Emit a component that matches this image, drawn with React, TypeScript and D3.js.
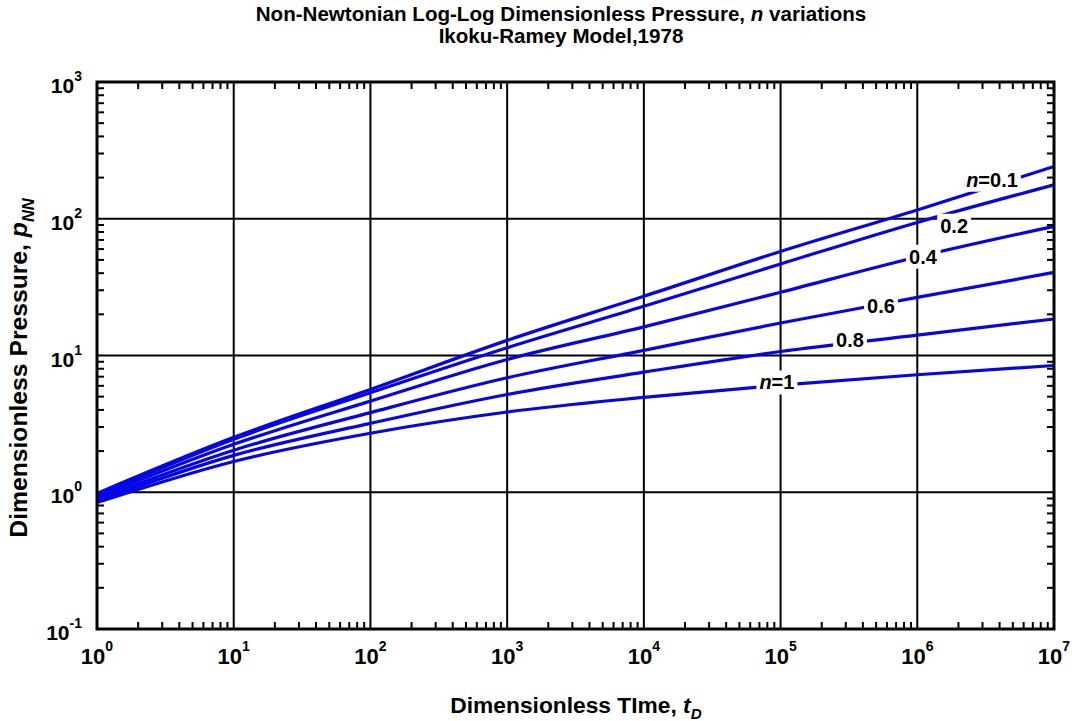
import React, { useEffect, useRef } from "react";
import * as d3 from "d3";

const times = [1, 1e1, 1e2, 1e3, 1e4, 1e5, 1e6, 1e7];
const nValues = ["0.1", "0.2", "0.4", "0.6", "0.8", "1"];
const p_n01 = [0.98, 2.52, 5.65, 12.9, 27.1, 57.7, 116, 241];
const p_n02 = [0.95, 2.44, 5.34, 11.4, 22.9, 46.7, 94, 177];
const p_n04 = [0.92, 2.24, 4.64, 9.35, 16.2, 29.0, 52.5, 87.9];
const p_n06 = [0.89, 2.03, 3.82, 6.87, 10.9, 17.3, 26.6, 40.5];
const p_n08 = [0.86, 1.86, 3.19, 5.19, 7.55, 10.7, 14.1, 18.5];
const p_n10 = [0.84, 1.68, 2.7, 3.86, 4.94, 6.07, 7.23, 8.45];
const seriesValues = [p_n01, p_n02, p_n04, p_n06, p_n08, p_n10];

const labelTexts = [
  { italic: "n", rest: "=0.1" },
  { italic: "", rest: "0.2" },
  { italic: "", rest: "0.4" },
  { italic: "", rest: "0.6" },
  { italic: "", rest: "0.8" },
  { italic: "n", rest: "=1" },
];
const labelT = [3.52e6, 1.86e6, 1.1e6, 5.43e5, 3.22e5, 9.4e4];
const labelP = [193, 88.9, 52.8, 23.2, 12.9, 6.35];

const xDecades = [0, 1, 2, 3, 4, 5, 6, 7];
const yDecades = [-1, 0, 1, 2, 3];

const W = 1072;
const H = 721;
const M = { left: 97, right: 1054, top: 82, bottom: 629 };
const FONT = "'Liberation Sans', Arial, sans-serif";

export default function App() {
  const ref = useRef<SVGSVGElement>(null);

  useEffect(() => {
    const svg = d3.select(ref.current);
    svg.selectAll("*").remove();

    const x = d3.scaleLog().domain([1, 1e7]).range([M.left, M.right]);
    const y = d3.scaleLog().domain([0.1, 1000]).range([M.bottom, M.top]);

    svg.append("rect").attr("width", W).attr("height", H).attr("fill", "#fff");

    // gridlines
    const grid = svg.append("g").attr("stroke", "#000").attr("stroke-width", 2);
    xDecades.slice(1, -1).forEach((d) => {
      const xv = x(Math.pow(10, d));
      grid.append("line").attr("x1", xv).attr("x2", xv).attr("y1", M.top).attr("y2", M.bottom);
    });
    yDecades.slice(1, -1).forEach((d) => {
      const yv = y(Math.pow(10, d));
      grid.append("line").attr("x1", M.left).attr("x2", M.right).attr("y1", yv).attr("y2", yv);
    });

    // minor ticks
    const ticks = svg.append("g").attr("stroke", "#000").attr("stroke-width", 2);
    const TL = 7;
    xDecades.slice(0, -1).forEach((d) => {
      for (let k = 2; k <= 9; k++) {
        const xv = x(k * Math.pow(10, d));
        ticks.append("line").attr("x1", xv).attr("x2", xv).attr("y1", M.bottom).attr("y2", M.bottom - TL);
        ticks.append("line").attr("x1", xv).attr("x2", xv).attr("y1", M.top).attr("y2", M.top + TL);
      }
    });
    yDecades.slice(0, -1).forEach((d) => {
      for (let k = 2; k <= 9; k++) {
        const yv = y(k * Math.pow(10, d));
        ticks.append("line").attr("x1", M.left).attr("x2", M.left + TL).attr("y1", yv).attr("y2", yv);
        ticks.append("line").attr("x1", M.right).attr("x2", M.right - TL).attr("y1", yv).attr("y2", yv);
      }
    });

    // curves
    const line = d3
      .line<number>()
      .x((_, i) => x(times[i]))
      .y((v) => y(v))
      .curve(d3.curveMonotoneX);
    const cg = svg.append("g");
    seriesValues.forEach((vals) => {
      cg.append("path")
        .attr("d", line(vals) as string)
        .attr("fill", "none")
        .attr("stroke", "#0505e6")
        .attr("stroke-width", 3.2);
    });

    // curve labels
    const lg = svg.append("g");
    labelTexts.forEach((lab, i) => {
      const g = lg.append("g");
      const t = g
        .append("text")
        .attr("x", x(labelT[i]))
        .attr("y", y(labelP[i]))
        .attr("text-anchor", "middle")
        .attr("dominant-baseline", "central")
        .attr("font-family", FONT)
        .attr("font-weight", "bold")
        .attr("font-size", 20)
        .attr("fill", "#000");
      if (lab.italic) t.append("tspan").attr("font-style", "italic").text(lab.italic);
      t.append("tspan").text(lab.rest);
      const bb = (t.node() as SVGTextElement).getBBox();
      g.insert("rect", "text")
        .attr("x", bb.x - 3)
        .attr("y", bb.y - 1)
        .attr("width", bb.width + 6)
        .attr("height", bb.height + 2)
        .attr("fill", "#fff");
    });

    // frame
    svg.append("rect")
      .attr("x", M.left)
      .attr("y", M.top)
      .attr("width", M.right - M.left)
      .attr("height", M.bottom - M.top)
      .attr("fill", "none")
      .attr("stroke", "#000")
      .attr("stroke-width", 3);

    // x tick labels
    xDecades.forEach((d) => {
      const t = svg
        .append("text")
        .attr("x", x(Math.pow(10, d)))
        .attr("y", 664)
        .attr("text-anchor", "middle")
        .attr("font-family", FONT)
        .attr("font-weight", "bold")
        .attr("font-size", 22)
        .attr("fill", "#000");
      t.append("tspan").text("10");
      t.append("tspan").attr("font-size", 14).attr("dy", -13).text(String(d));
    });

    // y tick labels
    yDecades.forEach((d) => {
      const t = svg
        .append("text")
        .attr("x", 82)
        .attr("y", y(Math.pow(10, d)) + 11)
        .attr("text-anchor", "end")
        .attr("font-family", FONT)
        .attr("font-weight", "bold")
        .attr("font-size", 21)
        .attr("fill", "#000");
      t.append("tspan").text("10");
      t.append("tspan").attr("font-size", 14).attr("dy", -12).text(String(d));
    });

    // helper: uniformly scale a text (anchored at middle/baseline) to a target width
    const fit = (
      sel: d3.Selection<SVGTextElement, unknown, null, undefined>,
      cx: number,
      cy: number,
      target: number,
      rotate = 0
    ) => {
      const bb = (sel.node() as SVGTextElement).getBBox();
      const s = bb.width > 0 ? target / bb.width : 1;
      sel.attr("transform", `translate(${cx},${cy}) rotate(${rotate}) scale(${s})`);
      return s;
    };

    const mkText = () =>
      svg
        .append("text")
        .attr("x", 0)
        .attr("y", 0)
        .attr("text-anchor", "middle")
        .attr("font-family", FONT)
        .attr("font-weight", "bold")
        .attr("font-size", 18)
        .attr("fill", "#000");

    // titles
    const title = mkText();
    title.append("tspan").text("Non-Newtonian Log-Log Dimensionless Pressure, ");
    title.append("tspan").attr("font-style", "italic").text("n");
    title.append("tspan").text(" variations");
    const ts = fit(title, 561, 21, 611);

    const title2 = mkText();
    title2.text("Ikoku-Ramey Model,1978");
    title2.attr("transform", `translate(561,43) scale(${ts})`);

    // x axis title
    const xt = mkText();
    xt.append("tspan").text("Dimensionless TIme, ");
    xt.append("tspan").attr("font-style", "italic").text("t");
    xt.append("tspan").attr("font-size", 12).attr("dy", 5).attr("font-style", "italic").text("D");
    fit(xt, 576, 713, 252);

    // y axis title
    const yt = mkText();
    yt.append("tspan").text("Dimensionless Pressure, ");
    yt.append("tspan").attr("font-style", "italic").text("p");
    yt.append("tspan").attr("font-size", 12).attr("dy", 5).attr("font-style", "italic").text("NN");
    fit(yt, 27, 368, 340, -90);
  }, []);

  return (
    <svg
      ref={ref}
      width={W}
      height={H}
      style={{ position: "absolute", left: 0, top: 0, display: "block" }}
    />
  );
}
